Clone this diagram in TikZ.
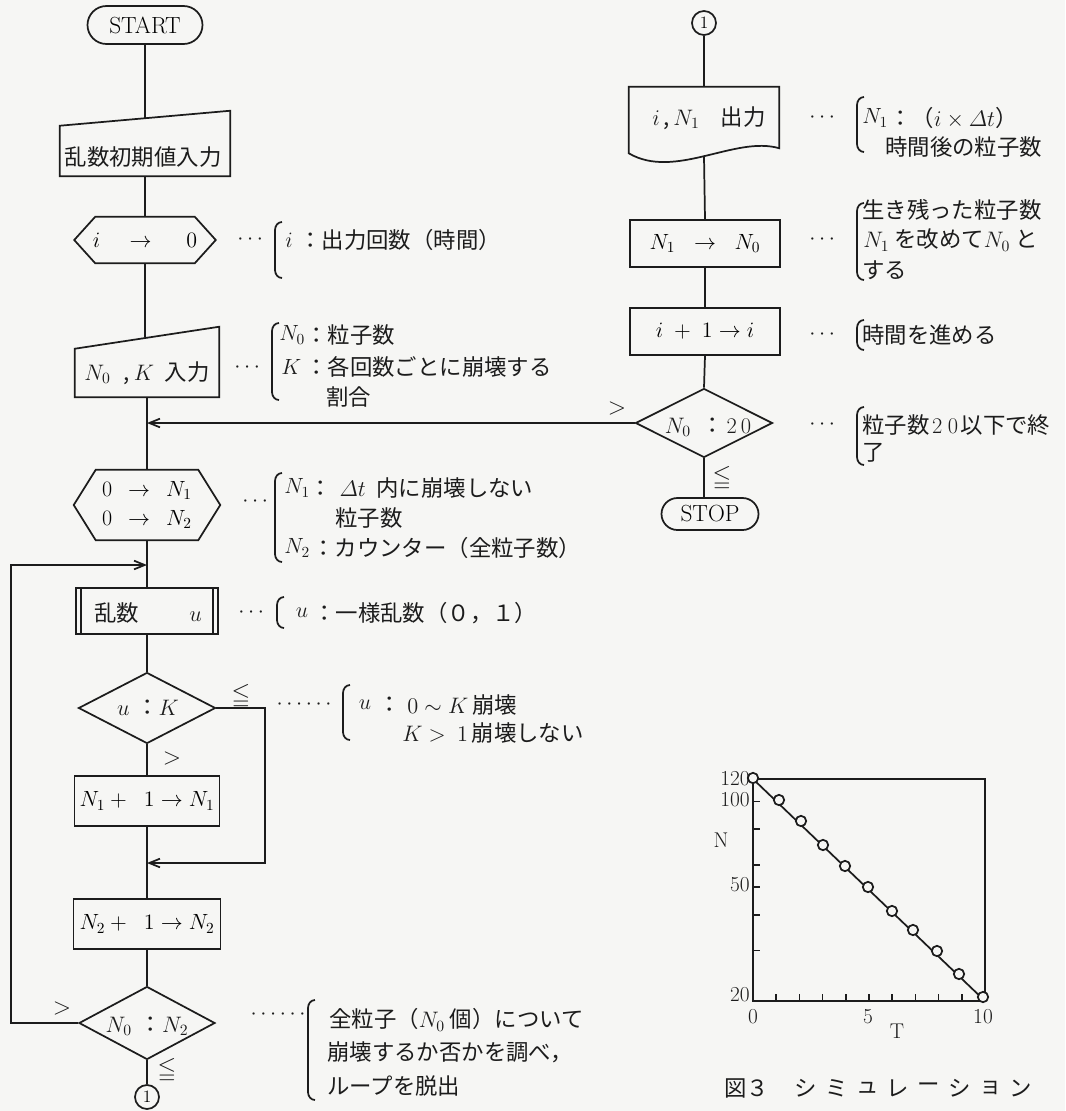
\RequirePackage{fix-cm}
\documentclass[tikz,border=0pt]{standalone}
\usepackage{amsmath,amssymb}
\usepackage{fontspec}
\newfontfamily\jp{Noto Sans CJK JP}
\usetikzlibrary{shapes.geometric,shapes.misc,arrows.meta,calc}
\definecolor{ink}{HTML}{1C1C1C}
\definecolor{paper}{HTML}{F6F6F4}
\newcommand\brk[3]{\draw[ln] (#1+7,#2) to[out=180,in=90] (#1,#2+8) -- (#1,#3-8) to[out=-90,in=180] (#1+7,#3);}
\newcommand\hexa[2]{\draw[ln] (#1.west) -- ($(#1.north west)+(#2,0)$) -- ($(#1.north east)+(-#2,0)$) -- (#1.east) -- ($(#1.south east)+(-#2,0)$) -- ($(#1.south west)+(#2,0)$) -- cycle;}
\begin{document}
\begin{tikzpicture}[x=0.75pt,y=-0.75pt,
  font=\fontsize{16.5}{19}\selectfont,
  ln/.style={draw=ink,line width=1.3pt},
  arr/.style={ln,-{Straight Barb[length=8pt,width=6.5pt]}},
  term/.style={ln,rounded rectangle,inner sep=0pt,font=\fontsize{17.5}{20}\selectfont},
  boxn/.style={ln,rectangle,inner sep=0pt},
  ph/.style={rectangle,inner sep=0pt},
  dia/.style={ln,diamond,shape aspect=2,inner sep=0pt},
  tx/.style={inner sep=0pt,text=ink},
  jt/.style={tx,font=\jp\fontsize{16.8}{19}\selectfont},
  jw/.style={jt,anchor=west},
  mw/.style={tx,anchor=west},
  sym/.style={tx,font=\fontsize{18}{20}\selectfont},
  conn/.style={ln,circle,inner sep=0pt,minimum size=18pt,font=\fontsize{13}{15}\selectfont},
  gl/.style={tx,font=\fontsize{16}{19}\selectfont},
]
\fill[paper] (0,0) rectangle (1065,1111);
\useasboundingbox (0,0) rectangle (1065,1111);

% ---------------- left column ----------------
\node[term,minimum width=86.25pt,minimum height=28.5pt] (start) at (145,25) {START};
\node[ph,minimum width=127.5pt,minimum height=48.75pt] (in1) at (145,143.5) {};
\draw[ln] (in1.south west) -- ($(in1.north west)+(0,15)$) -- (in1.north east) -- (in1.south east) -- cycle;
\node[jt] (in1t) at (143,157) {乱数初期値入力};
\node[ph,minimum width=105.75pt,minimum height=34.5pt] (hex1) at (145,240) {$i$\hspace{22pt}$\rightarrow$\hspace{26pt}$0$};
\hexa{hex1}{21}
\node[ph,minimum width=108pt,minimum height=52.5pt] (in2) at (147,362) {};
\draw[ln] (in2.south west) -- ($(in2.north west)+(0,22)$) -- (in2.north east) -- (in2.south east) -- cycle;
\node[jt] (in2t) at (147,373) {$N_0$\hspace{10pt},\,$K$\hspace{8pt}入力};
\coordinate (J1) at (147,423);
\node[ph,minimum width=109.5pt,minimum height=52.5pt,align=center] (hex2) at (147,505) {0\hspace{12pt}$\rightarrow$\hspace{12pt}$N_1$\\[3pt]0\hspace{12pt}$\rightarrow$\hspace{12pt}$N_2$};
\hexa{hex2}{22}
\coordinate (J2) at (147,565);
\node[boxn,minimum width=106.5pt,minimum height=34.5pt] (rnd) at (147,611) {};
\draw[ln] ($(rnd.north west)+(6,0)$) -- ($(rnd.south west)+(6,0)$);
\draw[ln] ($(rnd.north east)+(-6,0)$) -- ($(rnd.south east)+(-6,0)$);
\node[jt] (rndt) at (148,613) {乱数\hspace{38pt}$u$};
\node[dia,minimum width=102.75pt,minimum height=53.25pt] (dia1) at (147,708) {};
\node[jt] (dia1t) at (148,708) {$u$\hspace{5pt}：$K$};
\node[boxn,minimum width=108.75pt,minimum height=37.5pt] (bn1) at (147,801) {$N_1+\;\;1\rightarrow N_1$};
\coordinate (J3) at (147,863);
\node[boxn,minimum width=110.25pt,minimum height=37.5pt] (bn2) at (147,924) {$N_2+\;\;1\rightarrow N_2$};
\node[dia,minimum width=102pt,minimum height=54.75pt] (dia2) at (147,1023) {};
\node[jt] (dia2t) at (147,1026) {$N_0$\hspace{6pt}：$N_2$};
\node[conn] (c1) at (147,1097) {1};
\coordinate (lpL) at (11,565);
\coordinate (lpR) at (265,863);

\draw[ln] (start.south) -- ($(in1.north)+(0,7.5)$);
\draw[ln] (in1.south) -- (hex1.north);
\draw[ln] (hex1.south) -- (hex1.south |- in2.north) -- ++(0,10);
\draw[ln] (in2.south) -- (hex2.north);
\draw[ln] (hex2.south) -- (rnd.north);
\draw[ln] (rnd.south) -- (dia1.north);
\draw[ln] (dia1.south) -- (bn1.north);
\draw[ln] (bn1.south) -- (bn2.north);
\draw[ln] (bn2.south) -- (dia2.north);
\draw[ln] (dia2.south) -- (c1.north);
\draw[arr] (dia1.east) -| (lpR) -- (J3);
\draw[arr] (dia2.west) -| (lpL) -- (J2);

\node[sym] (le1) at (241,696) {$\leqq$};
\node[sym] (gt1) at (172,758) {$>$};
\node[sym] (gt2) at (62,1008) {$>$};
\node[sym] (le2) at (167,1070) {$\leqq$};

% annotations left
\node[tx] (a1d) at (252,240) {$\cdots$};
\brk{275}{222}{278}
\node[mw] (a1l) at (285,240) {$i$};
\node[jw] (a1t) at (299,240) {：出力回数（時間）};

\node[tx] (a2d) at (249,368) {$\cdots$};
\brk{272}{323}{400}
\node[mw] (a2l1) at (279,335) {$N_0$};
\node[jw] (a2t1) at (305,335) {：粒子数};
\node[mw] (a2l2) at (281,367) {$K$};
\node[jw] (a2t2) at (305,367) {：各回数ごとに崩壊する};
\node[jw] (a2t3) at (326,397) {割合};

\node[tx] (a3d) at (257,502) {$\cdots$};
\brk{275}{473}{562}
\node[mw] (a3l1) at (284,488) {$N_1$};
\node[jw] (a3t1) at (309,488) {：\hspace{6pt}$\varDelta t$\hspace{8pt}内に崩壊しない};
\node[jw] (a3t2) at (335,518) {粒子数};
\node[mw] (a3l3) at (284,548) {$N_2$};
\node[jw] (a3t3) at (312,548) {：カウンター（全粒子数）};

\node[tx] (a4d) at (253,613) {$\cdots$};
\brk{277}{597}{628}
\node[tx] (a4l) at (302,613) {$u$};
\node[jw] (a4t) at (313,613) {：一様乱数（０，１）};

\node[tx] (a5d) at (306,705) {$\cdots\cdots$};
\brk{343}{685}{740}
\node[tx] (a5l) at (365,705) {$u$};
\node[jt] (a5c) at (390,705) {：};
\node[jw] (a5t1) at (407,705) {$0\sim K$\,崩壊};
\node[jw] (a5t2) at (402,733) {$K>\ 1$\,崩壊しない};

\node[tx] (a6d) at (280,1015) {$\cdots\cdots$};
\brk{308}{1000}{1100}
\node[jw] (a6t1) at (329,1020) {全粒子（$N_0$ 個）について};
\node[jw] (a6t2) at (327,1052) {崩壊するか否かを調べ，};
\node[jw] (a6t3) at (327,1086) {ループを脱出};

% ---------------- right column ----------------
\node[conn] (c1r) at (704,23) {1};
\node[ph,minimum width=112.5pt,minimum height=45.75pt] (doc) at (704,117.5) {};
\draw[ln] (doc.south east) -- (doc.north east) -- (doc.north west) -- ($(doc.south west)+(0,5)$) .. controls ($(doc.south west)+(46,32)$) and ($(doc.south east)+(-44,-13)$) .. (doc.south east) -- cycle;
\node[jt] (doct) at (709,118) {$i$\,,\,$N_1$\hspace{16pt}出力};
\node[boxn,minimum width=112.5pt,minimum height=35.25pt] (bb1) at (705,243.5) {$N_1$\hspace{14pt}$\rightarrow$\hspace{14pt}$N_0$};
\node[boxn,minimum width=112.5pt,minimum height=35.25pt] (bb2) at (705,331.5) {$i\;+\;1\rightarrow i$};
\node[dia,minimum width=102.75pt,minimum height=51.75pt] (dia3) at (704,423) {};
\node[jt] (dia3t) at (708,427) {$N_0$\hspace{8pt}：\hspace{2pt}{\rmfamily 2\hspace{3pt}0}};
\node[term,minimum width=72.75pt,minimum height=24pt] (stop) at (710,514) {STOP};

\draw[ln] (c1r.south) -- (doc.north);
\draw[ln] ($(doc.south)+(0,8)$) -- (bb1.north);
\draw[ln] (bb1.south) -- (bb2.north);
\draw[ln] (bb2.south) -- (dia3.north);
\draw[ln] (dia3.south) -- (dia3.south |- stop.north);
\draw[arr] (dia3.west) -- (J1);

\node[sym] (gt3) at (617,408) {$>$};
\node[sym] (le3) at (722,478) {$\leqq$};

% annotations right
\node[tx] (b1d) at (824,118) {$\cdots$};
\brk{857}{97}{152}
\node[mw] (b1l) at (862,118) {$N_1$};
\node[jw] (b1t1) at (889,118) {：（$i\times\varDelta t$）};
\node[jw] (b1t2) at (885,147) {時間後の粒子数};

\node[tx] (b2d) at (824,240) {$\cdots$};
\brk{857}{203}{280}
\node[jw] (b2t1) at (862,210) {生き残った粒子数};
\node[jw] (b2t2) at (863,240) {$N_1$ を改めて$N_0$ と};
\node[jw] (b2t3) at (862,270) {する};

\node[tx] (b3d) at (824,335) {$\cdots$};
\brk{857}{320}{350}
\node[jw] (b3t) at (862,335) {時間を進める};

\node[tx] (b4d) at (824,425) {$\cdots$};
\brk{857}{407}{465}
\node[jw] (b4t1) at (862,425) {粒子数\hspace{2pt}{\rmfamily 2\hspace{4pt}0}\hspace{2pt}以下で終};
\node[jw] (b4t2) at (862,453) {了};

% ---------------- graph ----------------
\draw[ln] (753,779) rectangle (985,1001);
\foreach \k in {1,...,9} \draw[ln] (753+23.2*\k,1001) -- ++(0,-7);
\foreach \n in {100,80,60,50,40,30} \draw[ln] (753,{779+285*(log10(120)-log10(\n))}) -- ++(7,0);
\draw[ln] (753,779) -- (985,1001);
\foreach \px/\py in {753/778,779/800,801/821,823/845,845/866,868/887,892/911,913/930,937/951,959/974,983/997}
  \draw[ln,fill=paper] (\px,\py) circle[radius=3.9pt];
\node[gl,anchor=east] (y120) at (750,779) {120};
\node[gl,anchor=east] (y100) at (750,800) {100};
\node[gl,anchor=east] (y50) at (750,885) {50};
\node[gl,anchor=east] (y20) at (750,995) {20};
\node[gl] (yN) at (721,840) {N};
\node[gl] (x0) at (753,1017) {0};
\node[gl] (x5) at (868,1017) {5};
\node[gl] (x10) at (983,1017) {10};
\node[gl] (xT) at (897,1031) {T};
\node[jw] (fig) at (724,1088) {図３};
\foreach \c [count=\k from 0] in {シ,ミ,ュ,レ,ー,シ,ョ,ン}
  \node[jt] (cap\k) at (806+30.7*\k,1088) {\c};
\end{tikzpicture}
\end{document}
